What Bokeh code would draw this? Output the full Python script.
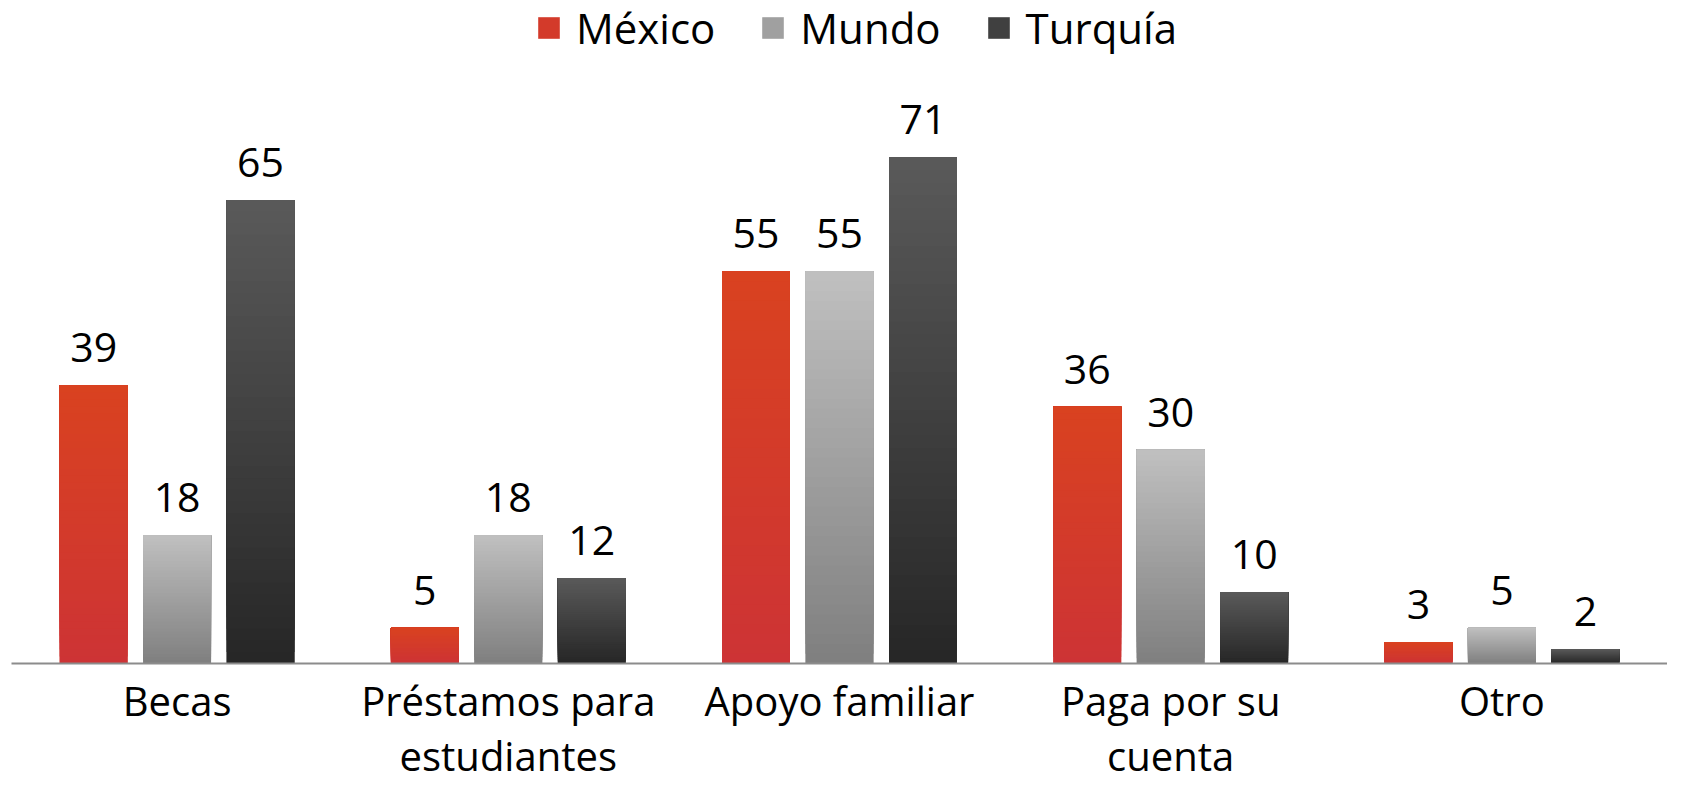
from bokeh.plotting import figure
from bokeh.models import FactorRange, ColumnDataSource, LabelSet, Legend, LegendItem
from bokeh.transform import dodge
from bokeh.core.properties import value
from bokeh.embed import file_html
from bokeh.resources import INLINE

categories = ["Becas", "Préstamos para\nestudiantes", "Apoyo familiar", "Paga por su\ncuenta", "Otro"]
series_names = ["México", "Mundo", "Turquía"]
mexico = [39, 5, 55, 36, 3]
mundo = [18, 18, 55, 30, 5]
turquia = [65, 12, 71, 10, 2]

FONT = "Open Sans"

# gradient colours (top, bottom) per series
grad = {
    "México": ((0xD9, 0x42, 0x20), (0xCD, 0x33, 0x35)),
    "Mundo": ((0xC0, 0xC0, 0xC0), (0x7F, 0x7F, 0x7F)),
    "Turquía": ((0x5A, 0x5A, 0x5A), (0x26, 0x26, 0x26)),
}
offsets = [-0.252, 0.0, 0.252]
BAR_W = 0.205
N = 40


def mix(c_top, c_bot, t):
    # t = 0 bottom, 1 top
    r = [round(c_bot[i] + (c_top[i] - c_bot[i]) * t) for i in range(3)]
    return "#%02x%02x%02x" % tuple(r)


p = figure(x_range=FactorRange(*categories, range_padding=0), y_range=(0, 93.0),
           width=1667, height=787, output_backend="svg", toolbar_location=None,
           min_border_left=11, min_border_right=0, min_border_top=0, min_border_bottom=124)
p.outline_line_color = None
p.xgrid.visible = False
p.ygrid.visible = False
p.yaxis.visible = False

legend_items = []
for name, vals, off in zip(series_names, [mexico, mundo, turquia], offsets):
    top_c, bot_c = grad[name]
    src = ColumnDataSource(dict(cat=categories, val=vals, lbl=[str(v) for v in vals]))
    base = p.vbar(x=dodge("cat", off, range=p.x_range), top="val", bottom=0, width=BAR_W,
                  source=src, fill_color=mix(top_c, bot_c, 0.5), line_color=None)
    legend_items.append(LegendItem(label=name, renderers=[base]))
    for k in range(N):
        t = (k + 0.5) / N
        bottoms = [v * k / N for v in vals]
        s = ColumnDataSource(dict(cat=categories, top=vals, bottom=bottoms))
        p.vbar(x=dodge("cat", off, range=p.x_range), top="top", bottom="bottom", width=BAR_W,
               source=s, fill_color=mix(top_c, bot_c, t), line_color=None)
    labels = LabelSet(x=dodge("cat", off, range=p.x_range), y="val", text="lbl", source=src,
                      y_offset=23, text_align="center", text_baseline="alphabetic",
                      text_font=value(FONT), text_font_size="41px", text_color="#000000")
    p.add_layout(labels)

legend = Legend(items=legend_items, orientation="horizontal", location=(524, 607))
legend.label_text_font = FONT
legend.label_text_font_size = "42px"
legend.label_text_color = "#000000"
legend.glyph_width = 27
legend.glyph_height = 27
legend.label_standoff = 14
legend.spacing = 44
legend.border_line_color = None
legend.background_fill_alpha = 0
legend.margin = 0
legend.padding = 0
p.add_layout(legend)

ax = p.xaxis[0]
ax.axis_line_color = "#8c8c8c"
ax.axis_line_width = 2
ax.major_tick_line_color = None
ax.minor_tick_line_color = None
ax.major_tick_out = 0
ax.major_tick_in = 0
ax.major_label_standoff = 9
ax.major_label_text_font = FONT
ax.major_label_text_font_size = "40px"
ax.major_label_text_line_height = 1.0
ax.major_label_text_color = "#000000"
ax.group_text_font_size = "0px"

open("out.html", "w").write(file_html(p, INLINE))
